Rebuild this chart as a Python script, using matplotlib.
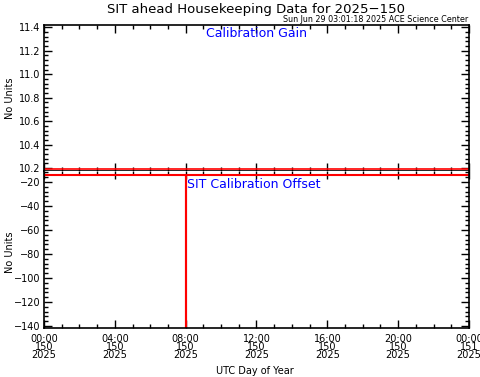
import numpy as np
import matplotlib
matplotlib.use("Agg")
import matplotlib.pyplot as plt
from matplotlib.ticker import MultipleLocator, FormatStrFormatter

# hours since 2025-150 00:00 UTC
hours = [0.0, 8.0, 8.0, 8.0, 24.0]
cal_gain = [10.19, 10.19, 10.19, 10.19, 10.19]
cal_offset = [-14.3, -14.3, -200.0, -14.3, -14.3]

tick_hours = [0, 4, 8, 12, 16, 20, 24]
tick_labels = ["00:00\n150\n2025", "04:00\n150\n2025", "08:00\n150\n2025",
               "12:00\n150\n2025", "16:00\n150\n2025", "20:00\n150\n2025",
               "00:00\n151\n2025"]

plt.rcParams['font.family'] = ['DejaVu Sans']
fig = plt.figure(figsize=(4.81, 3.77), dpi=100)

left, width = 44/481, (469-44)/481
ax1 = fig.add_axes([left, 1-171/377, width, (171-25)/377])
ax2 = fig.add_axes([left, 1-328/377, width, (328-171)/377])

def style(ax):
    ax.set_xlim(0, 24)
    ax.set_xticks(tick_hours)
    ax.xaxis.set_minor_locator(MultipleLocator(1))
    ax.tick_params(which='both', direction='in', top=True, right=True,
                   labelsize=7, width=1, colors='black', pad=2.5)
    ax.tick_params(which='major', length=6)
    ax.tick_params(which='minor', length=3)
    for s in ax.spines.values():
        s.set_linewidth(1.2)

ax1.plot(hours, cal_gain, color='red', linewidth=1.2)
ax1.set_ylim(10.175, 11.42)
ax1.set_yticks([10.2, 10.4, 10.6, 10.8, 11.0, 11.2, 11.4])
ax1.yaxis.set_major_formatter(FormatStrFormatter('%.1f'))
ax1.yaxis.set_minor_locator(MultipleLocator(0.04))
style(ax1)
ax1.set_xticklabels([])
ax1.text(0.5, 0.94, "Calibration Gain", transform=ax1.transAxes, color='blue',
         ha='center', va='center', fontsize=9)

ax2.plot(hours, cal_offset, color='red', linewidth=1.5)
ax2.set_ylim(-141.7, -10.8)
ax2.set_yticks([-140, -120, -100, -80, -60, -40, -20])
ax2.yaxis.set_minor_locator(MultipleLocator(4))
style(ax2)
ax2.tick_params(axis='x', pad=4)
ax2.spines['top'].set_visible(False)
ax2.set_xticklabels(tick_labels, linespacing=0.75)
ax2.text(187/481, 1-185/377, "SIT Calibration Offset", transform=fig.transFigure,
         color='blue', ha='left', va='center', fontsize=9)

fig.text(10/481, 1-98/377, "No Units", rotation=90, ha='center', va='center', fontsize=7)
fig.text(10/481, 1-252/377, "No Units", rotation=90, ha='center', va='center', fontsize=7)
fig.text(255/481, 1-371/377, "UTC Day of Year", ha='center', va='center', fontsize=7)
fig.text(256/481, 1-9/377, "SIT ahead Housekeeping Data for 2025\u2212150",
         ha='center', va='center', fontsize=9.5)
fig.text(468/481, 1-20/377, "Sun Jun 29 03:01:18 2025 ACE Science Center",
         ha='right', va='center', fontsize=5.8)

fig.savefig("out.png", dpi=100)
